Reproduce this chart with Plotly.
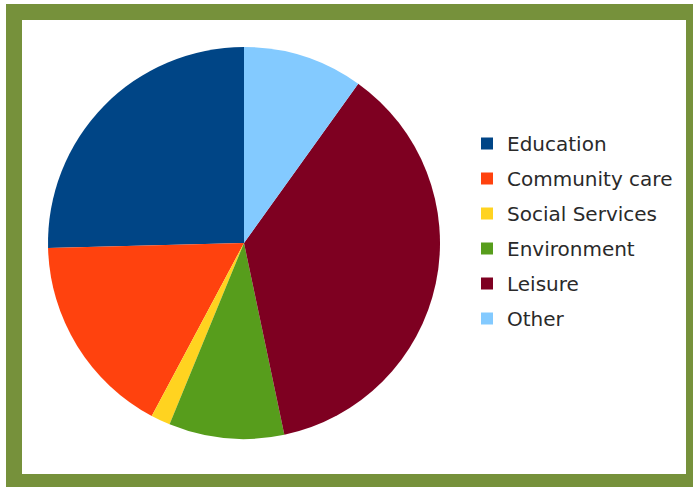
import plotly.graph_objects as go

labels = ["Education", "Community care", "Social Services", "Environment", "Leisure", "Other"]
values = [25.4, 16.8, 1.6, 9.5, 36.8, 9.9]
colors = ["#004586", "#ff420e", "#ffd320", "#579d1c", "#7e0021", "#83caff"]

W, H = 693, 487
BORDER = "#76913b"

# first slice should begin exactly at 12 o'clock, going counterclockwise
start_rot = -360.0 * values[0] / sum(values)

fig = go.Figure()
fig.add_trace(go.Pie(
    labels=labels, values=values, sort=False, direction="counterclockwise",
    rotation=start_rot, marker=dict(colors=colors, line=dict(width=0)),
    textinfo="none", hoverinfo="label+percent", showlegend=False,
    domain=dict(x=[48 / W, 440 / W], y=[(H - 439) / H, (H - 47) / H]),
))

# legend entries (one group each so spacing can be matched)
for lab, col in zip(labels, colors):
    fig.add_trace(go.Scatter(
        x=[None], y=[None], mode="markers", name=lab, legendgroup=lab,
        marker=dict(symbol="square", size=11, color=col),
        showlegend=True, hoverinfo="skip",
    ))

fig.update_layout(
    width=W, height=H,
    margin=dict(l=0, r=0, t=0, b=0),
    paper_bgcolor="white", plot_bgcolor="white",
    xaxis=dict(visible=False), yaxis=dict(visible=False),
    legend=dict(
        x=467 / W, xanchor="left", y=(H - 231) / H, yanchor="middle",
        font=dict(family="DejaVu Sans", size=20, color="#2a2a2a"),
        tracegroupgap=6, bgcolor="rgba(0,0,0,0)", borderwidth=0,
        itemsizing="constant",
    ),
    shapes=[
        dict(type="rect", xref="paper", yref="paper", layer="below",
             x0=6 / W, x1=1.05, y0=-0.05, y1=(H - 4) / H,
             fillcolor=BORDER, line=dict(width=0)),
        dict(type="rect", xref="paper", yref="paper", layer="below",
             x0=22 / W, x1=686 / W, y0=(H - 474) / H, y1=(H - 20) / H,
             fillcolor="white", line=dict(width=0)),
    ],
)

fig.write_html(
    "out.html",
    config={"displayModeBar": False},
    post_script="document.body.style.margin='0';document.body.style.overflow='hidden';",
)
